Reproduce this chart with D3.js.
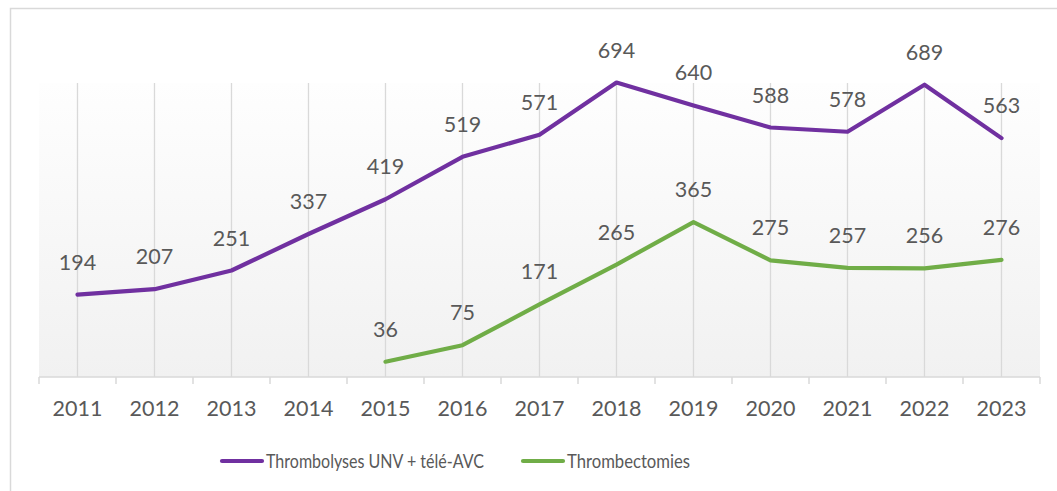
<!DOCTYPE html>
<html>
<head>
<meta charset="utf-8">
<script src="https://cdn.jsdelivr.net/npm/d3@7"></script>
<style>
  body { margin: 0; background: #fff; }
  text { font-family: Lato, "Open Sans", sans-serif; fill: #595959; }
</style>
</head>
<body>
<div id="chart"></div>
<script>
var years = ["2011", "2012", "2013", "2014", "2015", "2016", "2017", "2018", "2019", "2020", "2021", "2022", "2023"];
var thrombolyses = [194, 207, 251, 337, 419, 519, 571, 694, 640, 588, 578, 689, 563];
var thrombectomies = [null, null, null, null, 36, 75, 171, 265, 365, 275, 257, 256, 276];
var seriesNames = ["Thrombolyses UNV + télé-AVC", "Thrombectomies"];
var seriesColors = ["#7030a0", "#70ad47"];

var W = 1057, H = 491;
var plot = { left: 39, right: 1040, top: 83, bottom: 377 };

var svg = d3.select("#chart").append("svg")
  .attr("width", W)
  .attr("height", H);

// outer frame
svg.append("rect")
  .attr("x", 10.5).attr("y", 8.5)
  .attr("width", 1200).attr("height", 600)
  .attr("fill", "none")
  .attr("stroke", "#d9d9d9")
  .attr("stroke-width", 1.5);

var defs = svg.append("defs");
var grad = defs.append("linearGradient")
  .attr("id", "plotbg")
  .attr("x1", 0).attr("y1", 0).attr("x2", 0).attr("y2", 1);
grad.append("stop").attr("offset", "0%").attr("stop-color", "#fefefe");
grad.append("stop").attr("offset", "100%").attr("stop-color", "#f1f1f1");

svg.append("rect")
  .attr("x", plot.left).attr("y", plot.top)
  .attr("width", plot.right - plot.left)
  .attr("height", plot.bottom - plot.top)
  .attr("fill", "url(#plotbg)");

var x = d3.scaleBand().domain(years).range([plot.left, plot.right]);
var y = d3.scaleLinear().domain([0, 700]).range([plot.bottom, 80]);
var cx = function(d) { return x(d) + x.bandwidth() / 2; };

// vertical gridlines at category centres
svg.append("g").selectAll("line")
  .data(years)
  .enter().append("line")
    .attr("x1", cx).attr("x2", cx)
    .attr("y1", plot.top).attr("y2", plot.bottom)
    .attr("stroke", "#d9d9d9")
    .attr("stroke-width", 1.3);

// category axis
var ticks = years.map(function(d) { return x(d); }).concat([plot.right]);
svg.append("line")
  .attr("x1", plot.left).attr("x2", plot.right)
  .attr("y1", plot.bottom).attr("y2", plot.bottom)
  .attr("stroke", "#d9d9d9").attr("stroke-width", 1.5);
svg.append("g").selectAll("line")
  .data(ticks)
  .enter().append("line")
    .attr("x1", function(d) { return d; }).attr("x2", function(d) { return d; })
    .attr("y1", plot.bottom).attr("y2", plot.bottom + 7)
    .attr("stroke", "#d9d9d9").attr("stroke-width", 1.5);

svg.append("g").selectAll("text")
  .data(years)
  .enter().append("text")
    .attr("x", cx)
    .attr("y", 416)
    .attr("text-anchor", "middle")
    .style("font-size", "21.5px")
    .text(function(d) { return d; });

var series = [thrombolyses, thrombectomies];

series.forEach(function(vals, s) {
  var pts = years.map(function(yr, i) { return { year: yr, v: vals[i] }; })
    .filter(function(d) { return d.v != null; });

  var line = d3.line()
    .x(function(d) { return cx(d.year); })
    .y(function(d) { return y(d.v); });

  svg.append("path")
    .datum(pts)
    .attr("fill", "none")
    .attr("stroke", seriesColors[s])
    .attr("stroke-width", 4.2)
    .attr("stroke-linejoin", "round")
    .attr("stroke-linecap", "round")
    .attr("d", line);

  svg.append("g").selectAll("text")
    .data(pts)
    .enter().append("text")
      .attr("x", function(d) { return cx(d.year); })
      .attr("y", function(d) { return y(d.v) - 25; })
      .attr("text-anchor", "middle")
      .style("font-size", "21.5px")
      .text(function(d) { return d.v; });
});

// legend
var legendX = [222, 523];
var legendTextLen = [218, 123];
var legend = svg.selectAll(".legend")
  .data(seriesNames)
  .enter().append("g")
    .attr("class", "legend")
    .attr("transform", function(d, i) { return "translate(" + legendX[i] + ",461)"; });

legend.append("line")
  .attr("x1", 0).attr("x2", 40)
  .attr("y1", 0).attr("y2", 0)
  .attr("stroke", function(d, i) { return seriesColors[i]; })
  .attr("stroke-width", 4.2)
  .attr("stroke-linecap", "round");

legend.append("text")
  .attr("x", 44)
  .attr("y", 7)
  .attr("textLength", function(d, i) { return legendTextLen[i]; })
  .attr("lengthAdjust", "spacingAndGlyphs")
  .style("font-size", "20px")
  .text(function(d) { return d; });
</script>
</body>
</html>
